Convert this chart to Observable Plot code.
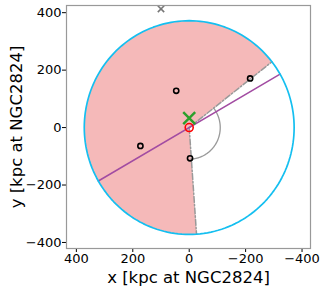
<!DOCTYPE html>
<html><head><meta charset="utf-8">
<script src="https://cdn.jsdelivr.net/npm/d3@7"></script>
<script src="https://cdn.jsdelivr.net/npm/@observablehq/plot@0.6"></script>
<style>body{margin:0;background:#fff}svg{font-family:"DejaVu Sans",sans-serif}</style>
</head><body><div id="chart"></div>
<script>
// Data (kpc at NGC2824)
const radius = 372;
const wedgeStartDeg = -94;   // lower edge of shaded wedge
const wedgeEndDeg = 142;     // upper edge of shaded wedge
const arcRadius = 110;
const axisLineDeg = 150;     // purple major-axis line
const satX = [46, -216, 173, -3];
const satY = [128, 171, -64, -107];
const hostX = [0], hostY = [0];
const greenX = [0], greenY = [33];
const farX = [100], farY = [413];
const ticks = [-400, -200, 0, 200, 400];

const rad = d => d * Math.PI / 180;
const circlePts = d3.range(0, 361, 2).map(a => ({x: radius*Math.cos(rad(a)), y: radius*Math.sin(rad(a))}));
const wedgePts = [{x:0,y:0}, ...d3.range(wedgeStartDeg, wedgeEndDeg + 0.5, 1).map(a => ({x: radius*Math.cos(rad(a)), y: radius*Math.sin(rad(a))})), {x:0,y:0}];
const arcPts = d3.range(wedgeEndDeg, 360 + wedgeStartDeg + 0.5, 1).map(a => ({x: arcRadius*Math.cos(rad(a)), y: arcRadius*Math.sin(rad(a))}));
const edge1 = [{x:0,y:0},{x: radius*Math.cos(rad(wedgeEndDeg)), y: radius*Math.sin(rad(wedgeEndDeg))}];
const edge2 = [{x:0,y:0},{x: radius*Math.cos(rad(wedgeStartDeg)), y: radius*Math.sin(rad(wedgeStartDeg))}];
const axisLine = [{x: -radius*Math.cos(rad(axisLineDeg)), y: -radius*Math.sin(rad(axisLineDeg))},{x: radius*Math.cos(rad(axisLineDeg)), y: radius*Math.sin(rad(axisLineDeg))}];
const sats = satX.map((x,i)=>({x, y: satY[i]}));

const chart = Plot.plot({
  width: 327, height: 289,
  marginLeft: 66, marginRight: 17, marginTop: 5, marginBottom: 41,
  style: {fontSize: "13px", fontFamily: "DejaVu Sans", color: "#000", background: "#fff"},
  x: {domain: [435, -430], ticks, tickSize: 4, tickPadding: 1, tickFormat: d => d < 0 ? "\u2212" + (-d) : String(d),
      label: "x [kpc at NGC2824]", labelAnchor: "center", labelArrow: "none", labelOffset: 34},
  y: {domain: [-421, 425], ticks, tickSize: 4, tickPadding: 1, tickFormat: d => d < 0 ? "\u2212" + (-d) : String(d),
      label: "y [kpc at NGC2824]", labelAnchor: "center", labelArrow: "none", labelOffset: 56},
  marks: [
    Plot.line(wedgePts, {x:"x", y:"y", fill:"#f5b9b9", stroke:"none", curve:"linear"}),
    Plot.line(edge1, {x:"x", y:"y", stroke:"#999", strokeWidth:1.5, strokeDasharray:"6,2,1.5,2"}),
    Plot.line(edge2, {x:"x", y:"y", stroke:"#999", strokeWidth:1.5, strokeDasharray:"6,2,1.5,2"}),
    Plot.line(arcPts, {x:"x", y:"y", stroke:"#999", strokeWidth:1.3}),
    Plot.line(axisLine, {x:"x", y:"y", stroke:"#a24ca2", strokeWidth:1.5}),
    Plot.line(circlePts, {x:"x", y:"y", stroke:"#14bff0", strokeWidth:1.7}),
    Plot.dot(sats, {x:"x", y:"y", r:2.6, stroke:"#000", strokeWidth:1.6, fill:"none"}),
    Plot.dot(hostX.map((x,i)=>({x,y:hostY[i]})), {x:"x", y:"y", r:4, stroke:"#f00", strokeWidth:1.6, fill:"none"}),
    Plot.dot(greenX.map((x,i)=>({x,y:greenY[i]})), {x:"x", y:"y", r:5.5, symbol:"times", stroke:"#2ca02c", strokeWidth:2.4}),
    Plot.dot(farX.map((x,i)=>({x,y:farY[i]})), {x:"x", y:"y", r:3, symbol:"times", stroke:"#777", strokeWidth:1.6}),
    Plot.frame({stroke:"#999", strokeWidth:1.2})
  ]
});
d3.select(chart).selectAll("[aria-label='x-axis label'] text, [aria-label='y-axis label'] text").style("font-size","16.5px");
document.getElementById("chart").append(chart);
</script></body></html>
